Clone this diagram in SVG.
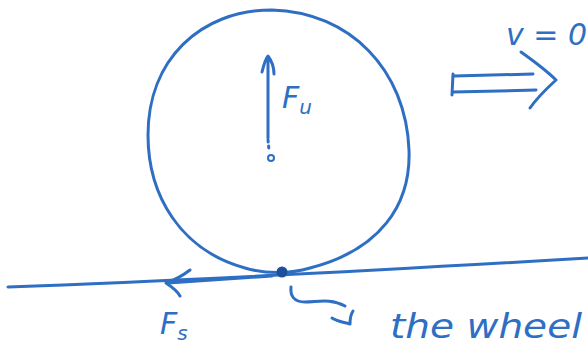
<svg xmlns="http://www.w3.org/2000/svg" width="588" height="352" viewBox="0 0 588 352">
<style>
.ink{fill:none;stroke:#2e6fc4;stroke-width:3;stroke-linecap:round;stroke-linejoin:round}
.lbl{font-family:"DejaVu Sans",sans-serif;fill:#2e6fc4;font-style:italic}
</style>
<rect width="588" height="352" fill="#fff"/>
<g id="wheel">
<path class="ink" d="M272,10 C200,10 148,60 148,135 C148,195 180,250 245,268 C265,274 290,274 310,268 C380,250 411,205 409,150 C406,70 350,12 272,10 Z"/>
<circle cx="271" cy="158" r="3" fill="none" stroke="#2e6fc4" stroke-width="2"/>
</g>
<g id="ground">
<path class="ink" d="M8,287 C150,282 350,272 588,258"/>
<circle cx="282" cy="272" r="5.5" fill="#1d4f9a"/>
</g>
<g id="connectors">
<path class="ink" d="M268,138 L268,58 M262,72 C264,64 266,58 268,56 C271,60 274,66 274,74"/>
<path class="ink" stroke-dasharray="2 4" d="M268,140 L269,150"/>
<path class="ink" d="M272,276 L168,283 M190,270 C182,276 175,280 166,283 C172,287 178,292 180,296"/>
<path class="ink" d="M454,76 L533,74 M453,92 L536,90 M453,74 L452,95 M521,52 C535,62 548,72 556,80 C545,90 537,98 530,108"/>
<path class="ink" d="M291,287 C290,296 294,302 305,302 C318,302 330,298 345,306 M332,318 C338,322 344,322 350,324 C350,318 351,314 353,311"/>
</g>
<g id="labels">
<text class="lbl" x="282" y="108" font-size="30">F<tspan font-size="20" dy="6">u</tspan></text>
<text class="lbl" x="160" y="334" font-size="30">F<tspan font-size="20" dy="6">s</tspan></text>
<text class="lbl" x="506" y="45" font-size="30">v = 0</text>
<text class="lbl" x="390" y="338" font-size="34" textLength="192" lengthAdjust="spacingAndGlyphs">the wheel</text>
</g>
</svg>
